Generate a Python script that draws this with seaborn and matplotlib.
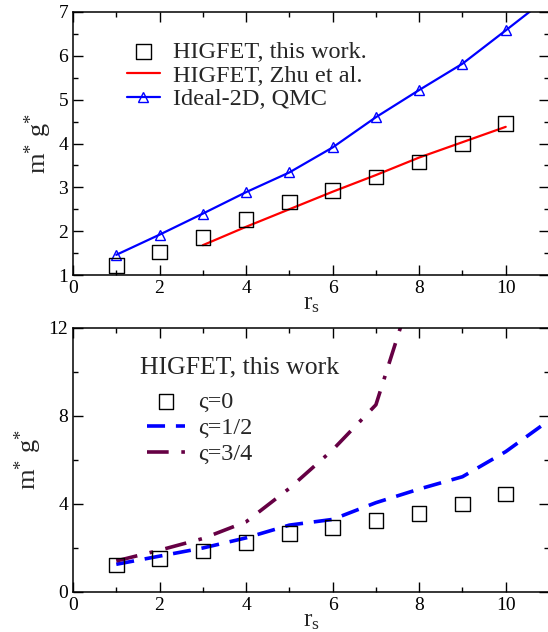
import numpy as np
import pandas as pd
import matplotlib
matplotlib.use("Agg")
import matplotlib.pyplot as plt
from matplotlib.ticker import MultipleLocator
import seaborn as sns

# ---- data ----
rs = [1, 2, 3, 4, 5, 6, 7, 8, 9, 10]
higfet_this = [1.22, 1.52, 1.86, 2.26, 2.67, 2.93, 3.24, 3.58, 4.00, 4.46]

zhu_rs = [3, 4, 5, 6, 7, 8, 9, 10]
zhu_vals = [1.68, 2.10, 2.50, 2.90, 3.28, 3.68, 4.03, 4.38]

qmc_rs = [1, 2, 3, 4, 5, 6, 7, 8, 9, 10, 11]
qmc_vals = [1.46, 1.92, 2.40, 2.89, 3.34, 3.91, 4.60, 5.22, 5.82, 6.58, 7.35]

pol_rs = [1, 2, 3, 4, 5, 6, 7, 8, 9, 10, 11]
zeta_half = [1.26, 1.63, 2.00, 2.46, 3.04, 3.30, 4.06, 4.68, 5.24, 6.38, 7.80]

pol34_rs = [1, 2, 3, 4, 5, 6, 7, 8]
zeta_34 = [1.41, 1.90, 2.43, 3.19, 4.71, 6.46, 8.51, 14.7]

top_labels = ["HIGFET, this work.", "HIGFET, Zhu et al.", "Ideal-2D, QMC"]
bot_labels = ["\u03c2=0", "\u03c2=1/2", "\u03c2=3/4"]
bot_title = "HIGFET, this work"

# ---- style ----
sns.set_style("ticks")
plt.rcParams['font.family'] = ['Liberation Serif', 'DejaVu Serif']
plt.rcParams['mathtext.default'] = 'regular'
plt.rcParams['axes.linewidth'] = 1.1

W, H = 548, 632
fig = plt.figure(figsize=(W / 100, H / 100), dpi=100)

left = 73 / W
right_px = 549
width = (right_px - 73) / W
ax1 = fig.add_axes([left, 1 - 275 / H, width, (275 - 12) / H])
ax2 = fig.add_axes([left, 1 - 592 / H, width, (592 - 328) / H])

MAROON = '#660044'

# top panel
sns.scatterplot(x=rs, y=higfet_this, ax=ax1, marker='s', s=110,
                facecolor='none', edgecolor='black', linewidth=1.0,
                label=top_labels[0], zorder=3)
sns.lineplot(x=zhu_rs, y=zhu_vals, ax=ax1, color='#ff0000', lw=1.6,
             label=top_labels[1])
sns.lineplot(x=qmc_rs, y=qmc_vals, ax=ax1, color='#0000ff', lw=1.6,
             marker='^', markersize=7, markerfacecolor='none',
             markeredgecolor='#0000ff', markeredgewidth=1.0,
             label=top_labels[2])

# bottom panel
sns.scatterplot(x=rs, y=higfet_this, ax=ax2, marker='s', s=110,
                facecolor='none', edgecolor='black', linewidth=1.0,
                label=bot_labels[0], zorder=3)
sns.lineplot(x=pol_rs, y=zeta_half, ax=ax2, color='#0000ff', lw=2.6,
             linestyle=(0, (5, 3)), label=bot_labels[1])
sns.lineplot(x=pol34_rs, y=zeta_34, ax=ax2, color=MAROON, lw=2.6,
             linestyle=(0, (6, 3.5, 1, 3.5)), label=bot_labels[2])

for ax in (ax1, ax2):
    ax.set_xlim(0, 11)
    ax.xaxis.set_major_locator(MultipleLocator(2))
    ax.xaxis.set_minor_locator(MultipleLocator(1))
    ax.tick_params(which='both', direction='in', top=True, right=True,
                   labelsize=14, colors='black', width=1.0)
    ax.tick_params(which='major', length=7.5)
    ax.tick_params(which='minor', length=3.8)
    ax.set_ylabel("m$^{*}$ g$^{*}$", fontsize=19, labelpad=3)
    for s in ax.spines.values():
        s.set_color('black')

ax1.set_xlabel("r$_s$", fontsize=18, labelpad=-3)
ax2.set_xlabel("r$_s$", fontsize=18, labelpad=-3)

ax1.set_ylim(1, 7)
ax1.yaxis.set_major_locator(MultipleLocator(1))
ax1.yaxis.set_minor_locator(MultipleLocator(0.5))
ax2.set_ylim(0, 12)
ax2.yaxis.set_major_locator(MultipleLocator(4))
ax2.yaxis.set_minor_locator(MultipleLocator(2))

h1, l1 = ax1.get_legend_handles_labels()
ax1.legend(h1, l1, loc='upper left', bbox_to_anchor=(127 / W, 1 - 41 / H),
           bbox_transform=fig.transFigure, frameon=False, fontsize=17.5,
           borderpad=0, borderaxespad=0, labelspacing=0.07,
           handlelength=1.35, handletextpad=0.55)

h2, l2 = ax2.get_legend_handles_labels()
ax2.legend(h2, l2, loc='upper left', bbox_to_anchor=(147 / W, 1 - 391 / H),
           bbox_transform=fig.transFigure, frameon=False, fontsize=17.5,
           borderpad=0, borderaxespad=0, labelspacing=0.17,
           handlelength=1.55, handletextpad=0.55)

fig.text(140 / W, 1 - 367 / H, bot_title, fontsize=18.5, ha='left', va='center')

fig.savefig("out.png", dpi=100)
